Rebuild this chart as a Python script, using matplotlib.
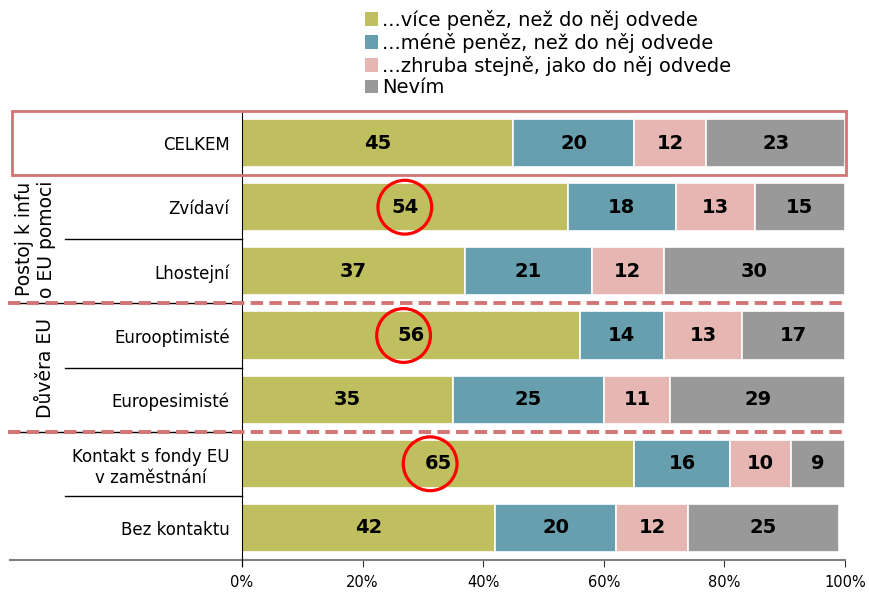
import numpy as np
import matplotlib.pyplot as plt
import matplotlib.transforms as mtransforms
from matplotlib.patches import Rectangle, Patch
from matplotlib.lines import Line2D

categories = ["CELKEM", "Zvídaví", "Lhostejní", "Eurooptimisté", "Europesimisté",
              "Kontakt s fondy EU\nv zaměstnání", "Bez kontaktu"]
vice = [45, 54, 37, 56, 35, 65, 42]
mene = [20, 18, 21, 14, 25, 16, 20]
stejne = [12, 13, 12, 13, 11, 10, 12]
nevim = [23, 15, 30, 17, 29, 9, 25]
series_names = ["...více peněz, než do něj odvede", "...méně peněz, než do něj odvede",
                "...zhruba stejně, jako do něj odvede", "Nevím"]
colors = ["#C0BF60", "#679FAF", "#E6B7B2", "#999999"]
groups = ["Postoj k infu\no EU pomoci", "Důvěra EU"]
group_rows = [1.5, 3.5]
group_x = [-0.342, -0.326]
circle_rows = [1, 3, 5]
circle_x = [27, 26.8, 31.2]

fig = plt.figure(figsize=(8.69, 5.92), dpi=100)
ax = fig.add_axes([242/869, 1 - 560/592, 603/869, 449/592])

y = np.arange(len(categories))
data = [vice, mene, stejne, nevim]
left = np.zeros(len(categories))
for vals, c, name in zip(data, colors, series_names):
    vals = np.array(vals, dtype=float)
    ax.barh(y, vals, left=left, height=0.75, color=c, edgecolor="white", linewidth=1.2, label=name)
    for yi, l, v in zip(y, left, vals):
        ax.text(l + v / 2, yi, f"{int(v)}", ha="center", va="center",
                fontsize=14, fontweight="bold", color="black")
    left += vals

ax.set_xlim(0, 100)
ax.set_ylim(6.5, -0.5)
ax.set_xticks(np.arange(0, 101, 20))
ax.set_xticklabels([f"{t}%" for t in range(0, 101, 20)], fontsize=10.5)
ax.tick_params(axis="x", length=5, color="#333333", pad=6)
ax.set_yticks(y)
ax.set_yticklabels(categories, fontsize=12, multialignment="center")
ax.tick_params(axis="y", length=0, pad=9)
for s in ["top", "right"]:
    ax.spines[s].set_visible(False)
ax.spines["bottom"].set_visible(False)
ax.spines["left"].set_color("black")
ax.spines["left"].set_bounds(6.6, -0.5)

tr = mtransforms.blended_transform_factory(ax.transAxes, ax.transData)
# separators in the label area
for yy, x0, col in [(0.5, -0.381, "#555555"), (1.5, -0.2935, "black"), (2.5, -0.381, "black"),
                    (3.5, -0.2935, "black"), (4.5, -0.385, "black"), (5.5, -0.2935, "black")]:
    ax.add_line(Line2D([x0, 0], [yy, yy], transform=tr, color=col, lw=1, clip_on=False))
ax.add_line(Line2D([-0.385, 1], [6.5, 6.5], transform=tr, color="#808080", lw=1.5, clip_on=False))

# dashed red group dividers
for yy in [2.5, 4.5]:
    ax.add_line(Line2D([-0.388, 1.0], [yy, yy], transform=tr, color="#D27474", lw=2.8,
                       dashes=(3.2, 1.6), clip_on=False, zorder=5))

# red box round CELKEM
ax.add_patch(Rectangle((-0.381, -0.5), 1.383, 1.0, transform=tr, fill=False,
                       edgecolor="#D27474", lw=2, clip_on=False, zorder=5))

for g, r, gx in zip(groups, group_rows, group_x):
    ax.text(gx, r, g, transform=tr, rotation=90, ha="center", va="center",
            fontsize=13.5, multialignment="center", linespacing=1.2)

ax.scatter(circle_x, circle_rows, s=1500, facecolors="none", edgecolors="#FF0000",
           linewidths=2.3, zorder=6, clip_on=False)

handles = [Patch(facecolor=c, edgecolor="none") for c in colors]
fig.legend(handles, series_names, loc="upper left", bbox_to_anchor=(355/869, 1.0),
           frameon=False, fontsize=14, handlelength=0.7, handleheight=0.7,
           handletextpad=0.2, labelspacing=0.15, borderaxespad=0.1)

fig.savefig("out.png", dpi=100)
